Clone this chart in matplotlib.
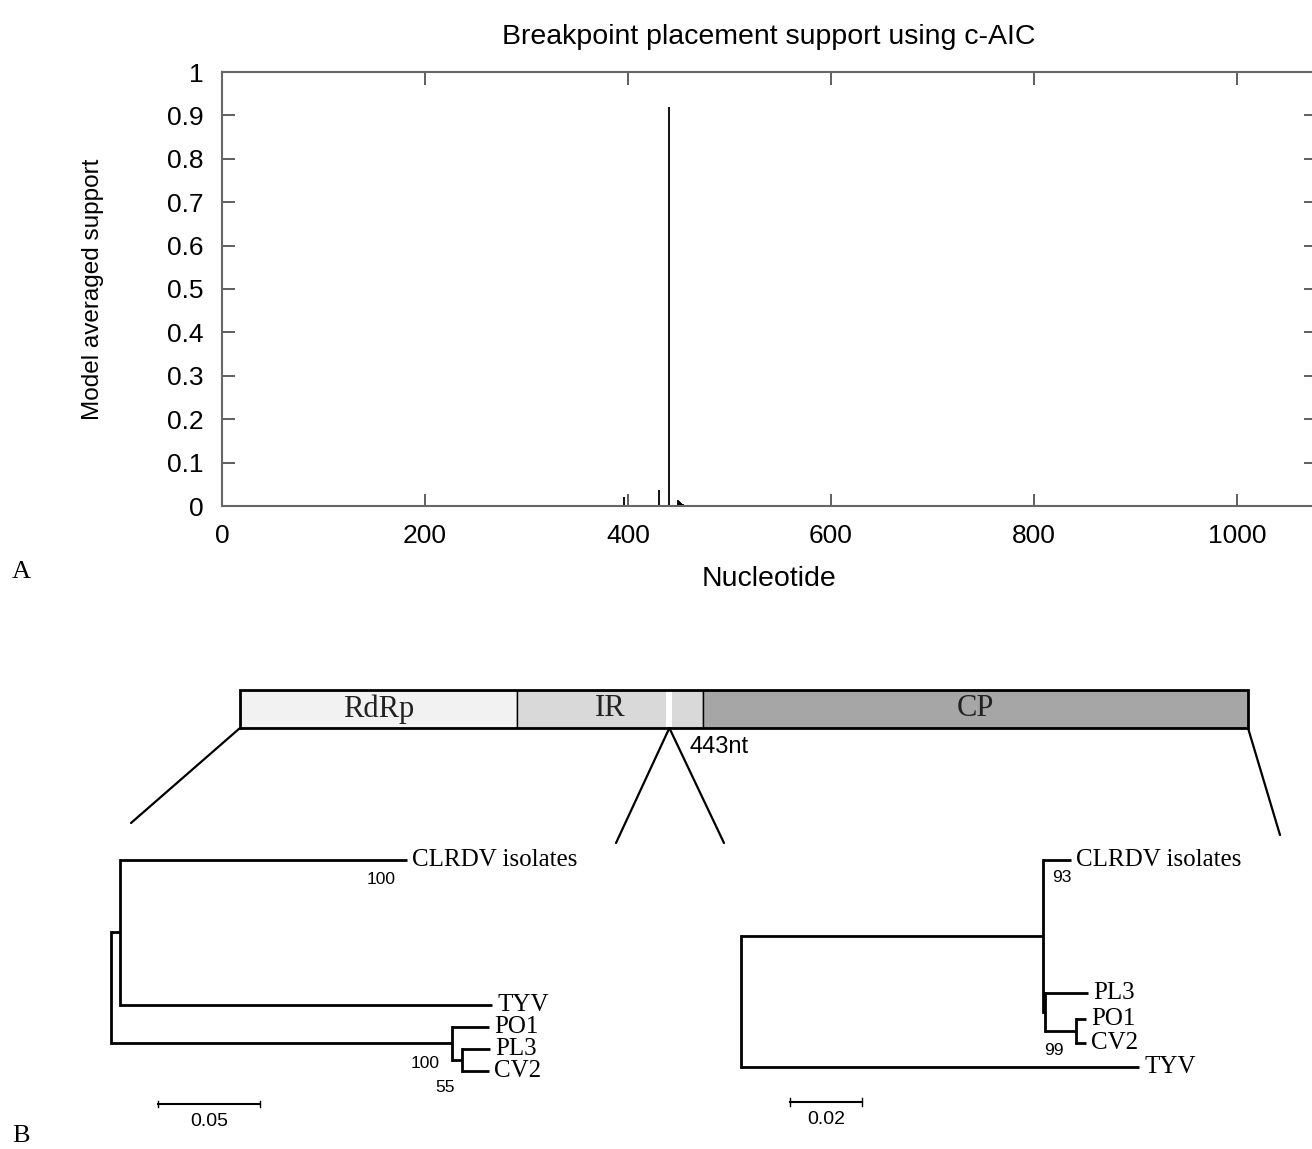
import matplotlib
matplotlib.use("Agg")
import matplotlib.pyplot as plt
from matplotlib.patches import ConnectionPatch

W, H = 1312, 1149

# Panel A: breakpoint placement support (c-AIC)
bp_pos = [396, 431, 434, 440, 449, 450, 451, 452, 453, 454, 455, 457, 459, 474]
bp_support = [0.02, 0.038, 0.003, 0.92, 0.013, 0.011, 0.009, 0.007, 0.005, 0.004, 0.003, 0.002, 0.002, 0.002]
x_ticks = [0, 200, 400, 600, 800, 1000]
y_ticks = [0, 0.1, 0.2, 0.3, 0.4, 0.5, 0.6, 0.7, 0.8, 0.9, 1]
y_ticklabels = ["0", "0.1", "0.2", "0.3", "0.4", "0.5", "0.6", "0.7", "0.8", "0.9", "1"]

# Panel B: genome map
genome_len = 1040
segments = ["RdRp", "IR", "CP"]
seg_start = [0, 286, 478]
seg_end = [286, 478, 1040]
seg_color = ["#f2f2f2", "#d9d9d9", "#a6a6a6"]
breakpoint = 443

# trees (branch lengths in substitutions/site)
tree_rdrp = {"name": "root", "len": 0, "children": [
    {"name": "c1", "len": 0.0044, "children": [
        {"name": "CLRDV isolates", "len": 0.1407},
        {"name": "TYV", "len": 0.1824}]},
    {"name": "c2", "len": 0.1672, "children": [
        {"name": "PO1", "len": 0.0181},
        {"name": "c3", "len": 0.0049, "children": [
            {"name": "PL3", "len": 0.0137},
            {"name": "CV2", "len": 0.0132}]}]}]}
tree_cp = {"name": "root", "len": 0, "children": [
    {"name": "a", "len": 0.0839, "children": [
        {"name": "CLRDV isolates", "len": 0.0078},
        {"name": "b", "len": 0.0006, "children": [
            {"name": "PL3", "len": 0.012},
            {"name": "c", "len": 0.0086, "children": [
                {"name": "PO1", "len": 0.0028},
                {"name": "CV2", "len": 0.0028}]}]}]},
    {"name": "TYV", "len": 0.1106}]}
boot_rdrp = [("100", "CLRDV isolates"), ("100", "c2"), ("55", "c3")]
boot_cp = [("93", "CLRDV isolates"), ("99", "b")]
scale_rdrp = 0.05
scale_cp = 0.02

# layout (vertical leaf rows)
rows_rdrp = {"CLRDV isolates": 0, "TYV": 6.59, "PO1": 7.59, "PL3": 8.59, "CV2": 9.59}
rows_cp = {"CLRDV isolates": 0, "PL3": 5.54, "PO1": 6.63, "CV2": 7.63, "TYV": 8.63}

plt.rcParams["font.family"] = ["Liberation Sans", "DejaVu Sans"]
fig = plt.figure(figsize=(W / 100, H / 100), dpi=100)
fig.patch.set_facecolor("white")


def box(l, t, r, b):
    return [l / W, 1 - b / H, (r - l) / W, (b - t) / H]


# ---- panel A
ax = fig.add_axes(box(222, 72, 1316, 506))
ax.vlines(bp_pos, 0, bp_support, color="black", lw=1.3)
ax.set_xlim(0, 1078)
ax.set_ylim(0, 1)
ax.set_xticks(x_ticks)
ax.set_yticks(y_ticks)
ax.set_yticklabels(y_ticklabels)
ax.tick_params(direction="in", length=9, width=1.2, color="#444444",
               labelsize=19, top=True, right=True, pad=13)
for s in ax.spines.values():
    s.set_color("#666666")
    s.set_linewidth(1.5)
ax.set_title("Breakpoint placement support using c-AIC", fontsize=20.5, pad=20)
ax.set_xlabel("Nucleotide", fontsize=20.5)
ax.xaxis.set_label_coords(0.5, -0.138)
ax.set_ylabel("Model averaged support", fontsize=17.5)
ax.yaxis.set_label_coords(-0.108, 0.5)
fig.text(12 / W, 1 - 572 / H, "A", fontsize=19, family="Liberation Serif", va="center")
fig.text(12 / W, 1 - 1136 / H, "B", fontsize=19, family="Liberation Serif", va="center")

# ---- genome map
gx = fig.add_axes(box(240, 690, 1248, 728))
gx.set_xlim(0, genome_len)
gx.set_ylim(0, 1)
gx.axis("off")
gx.barh(0.5, [e - s for s, e in zip(seg_start, seg_end)], left=seg_start, height=1,
        color=seg_color, edgecolor="black", linewidth=1)
gx.barh(0.5, 6, left=breakpoint - 3, height=0.94, color="white", linewidth=0)
gx.plot([0, genome_len, genome_len, 0, 0], [0, 0, 1, 1, 0], color="black", lw=2,
        clip_on=False, solid_joinstyle="miter")
for name, s, e in zip(segments, seg_start, seg_end):
    gx.text((s + e) / 2, 0.5, name, ha="center", va="center", fontsize=22,
            family="Liberation Serif", color="#222222")
gx.annotate(f"{breakpoint}nt", (breakpoint, 0), xytext=(20, -19), textcoords="offset pixels",
            fontsize=17, ha="left", va="center")


# ---- trees
def layout(node, x0, rows, pos):
    x = x0 + node["len"]
    if "children" in node:
        ys = [layout(c, x, rows, pos) for c in node["children"]]
        y = (min(ys) + max(ys)) / 2
        pos[node["name"]] = (x0, x, y, ys)
    else:
        y = rows[node["name"]]
        pos[node["name"]] = (x0, x, y, None)
    return y


def draw_tree(axt, tree, rows, boots, boot_off, scale, scale_row, scale_x):
    pos = {}
    layout(tree, 0, rows, pos)
    for name, (x0, x, y, ys) in pos.items():
        axt.plot([x0, x], [y, y], color="black", lw=2, solid_capstyle="butt")
        if ys is not None:
            axt.plot([x, x], [min(ys), max(ys)], color="black", lw=2, solid_capstyle="projecting")
        else:
            axt.annotate(name, (x, y), xytext=(5, 0), textcoords="offset pixels",
                         fontsize=18, family="Liberation Serif", va="center", ha="left")
    for (lab, node), (dx, dy, ha) in zip(boots, boot_off):
        x = pos[node][1]
        y = pos[node][2]
        axt.annotate(lab, (x, y), xytext=(dx, -dy), textcoords="offset pixels",
                     fontsize=12.5, ha=ha, va="center")
    axt.plot([scale_x, scale_x + scale], [scale_row, scale_row], color="black", lw=1.5)
    axt.plot([scale_x, scale_x], [scale_row - 0.15, scale_row + 0.15], color="black", lw=1)
    axt.plot([scale_x + scale] * 2, [scale_row - 0.15, scale_row + 0.15], color="black", lw=1)
    axt.annotate(f"{scale}", (scale_x + scale / 2, scale_row), xytext=(0, -18),
                 textcoords="offset pixels", fontsize=14, ha="center", va="center")
    axt.axis("off")


tl = fig.add_axes(box(100, 840, 620, 1130))
tl.set_xlim(-11 / 2040, 509 / 2040)
tl.set_ylim(270 / 22, -20 / 22)
draw_tree(tl, tree_rdrp, rows_rdrp, boot_rdrp,
          [(-11, 20, "right"), (-12, 20, "right"), (-7, 28, "right")],
          scale_rdrp, 244 / 22, 47 / 2040)

tr = fig.add_axes(box(720, 840, 1290, 1130))
tr.set_xlim(-21 / 3600, 549 / 3600)
tr.set_ylim(270 / 24, -20 / 24)
draw_tree(tr, tree_cp, rows_cp, boot_cp,
          [(-19, 18, "left"), (-1, 38, "left")],
          scale_cp, 242 / 24, 49 / 3600)

# connectors from genome map to trees
for gxpos, (px, py) in [(0, (131, 823)), (breakpoint, (616, 843)),
                        (breakpoint, (724, 843)), (genome_len, (1280, 835))]:
    con = ConnectionPatch(xyA=(gxpos, 0), coordsA=gx.transData,
                          xyB=(px / W, 1 - py / H), coordsB=fig.transFigure,
                          color="black", lw=1.6)
    fig.add_artist(con)

fig.savefig("out.png", dpi=100, facecolor="white")
